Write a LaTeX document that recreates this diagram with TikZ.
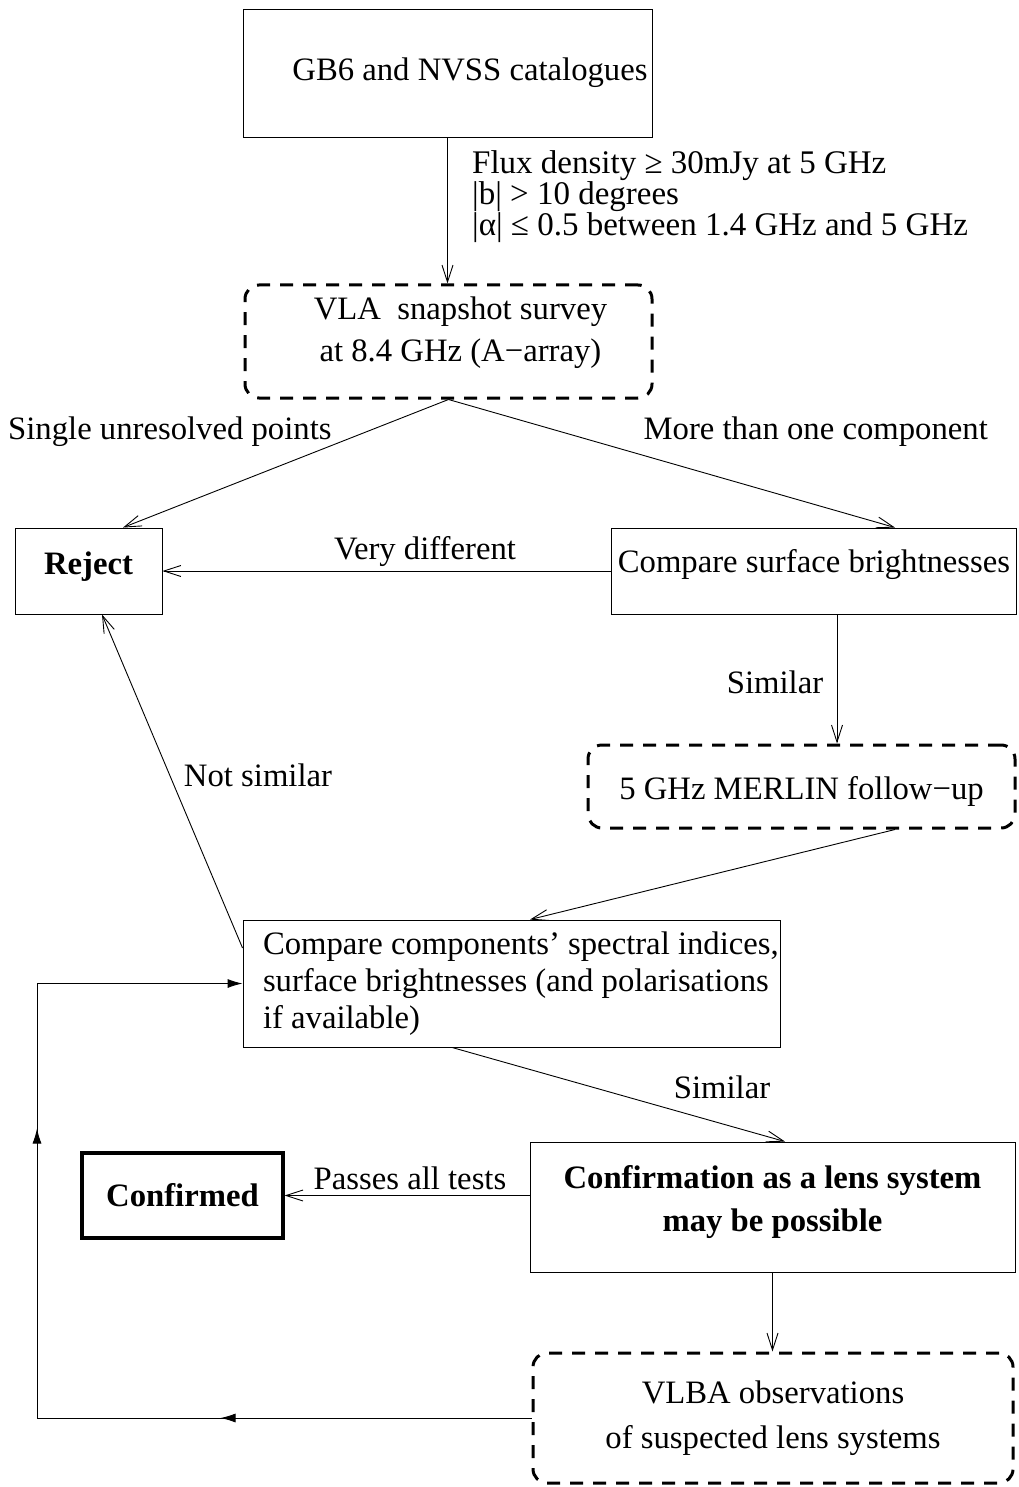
\documentclass[tikz,border=0pt]{standalone}
\usepackage{fontspec}
\setmainfont{Liberation Serif}
\usetikzlibrary{arrows.meta,decorations.markings}

\newcommand{\flowsize}[1]{\fontsize{32.7}{#1}\selectfont}

\tikzset{
  plainbox/.style={draw, line width=0.9pt, inner sep=0pt, align=flush center, font=\flowsize{36}},
  dashbox/.style={draw, line width=3pt, dash pattern=on 13pt off 10pt, rounded corners=14pt,
    inner sep=0pt, align=flush center, font=\flowsize{36}},
  boldbox/.style={draw, line width=3.2pt, inner sep=0pt, font=\flowsize{36}\bfseries},
  lbl/.style={inner sep=0pt, align=flush left, font=\flowsize{36}},
  flow/.style={line width=0.9pt, -{Straight Barb[length=17pt,width=11pt,line width=0.9pt]}},
  loopflow/.style={line width=0.9pt, -{Latex[length=15pt,width=9pt]}}
}

\begin{document}
\begin{tikzpicture}[x=1pt,y=-1pt]
\useasboundingbox (0,0) rectangle (1018,1487);

% boxes
\node[plainbox, minimum width=409pt, minimum height=128pt] (cat) at (447.5,73)
  {\hspace*{45pt}GB6 and NVSS catalogues};
\node[dashbox, minimum width=407pt, minimum height=113pt, text depth=24pt, font=\flowsize{42}] (vla) at (448.5,341.5)
  {\hspace*{24pt}VLA\ \ snapshot survey\\\hspace*{24pt}at 8.4 GHz (A−array)};
\node[plainbox, minimum width=147pt, minimum height=86pt, text depth=15pt, font=\flowsize{36}\bfseries] (reject) at (88.5,571) {Reject};
\node[plainbox, minimum width=405pt, minimum height=86pt, text depth=20pt] (cmpsb) at (814,571) {Compare surface brightnesses};
\node[dashbox, minimum width=427pt, minimum height=83pt, text height=33pt] (merlin) at (801.5,786.5) {5 GHz MERLIN follow−up};
\node[plainbox, text width=497pt, inner xsep=20pt, minimum height=127pt, align=flush left, font=\flowsize{37}] (cmpci) at (511.5,983.5)
  {\mbox{Compare components' spectral indices,}\\\mbox{surface brightnesses (and polarisations}\\\mbox{if available)}};
\node[plainbox, minimum width=485pt, minimum height=130pt, text depth=18pt, font=\flowsize{43}\bfseries] (conf) at (772.5,1207)
  {Confirmation as a lens system\\may be possible};
\node[boldbox, minimum width=201pt, minimum height=85pt] (confirmed) at (182.5,1195.5) {Confirmed};
\node[dashbox, minimum width=480pt, minimum height=130pt, font=\flowsize{45}] (vlba) at (773,1418)
  {VLBA observations\\of suspected lens systems};

% labels
\node[lbl, anchor=west, font=\fontsize{33}{30}\selectfont] (cuts) at (472,197)
  {Flux density ≥ 30mJy at 5 GHz\\|b| > 10 degrees\\|α| ≤ 0.5 between 1.4 GHz and 5 GHz};
\node[lbl, anchor=west] (single) at (8,432) {Single unresolved points};
\node[lbl, anchor=east] (multi) at (988,432) {More than one component};
\node[lbl] (diff) at (425,552) {Very different};
\node[lbl] (simA) at (775,682) {Similar};
\node[lbl] (notsim) at (258,775) {Not similar};
\node[lbl] (simB) at (722,1087) {Similar};
\node[lbl] (passes) at (410,1178) {Passes all tests};

% connectors
\draw[flow] (cat.south) -- (cat.south |- vla.north);
\draw[flow] (vla.south) -- ([xshift=34.5pt]reject.north);
\draw[flow] (vla.south) -- ([xshift=81pt]cmpsb.north);
\draw[flow] (cmpsb.west) -- (reject.east);
\draw[flow] ([xshift=23pt]cmpsb.south) -- ([xshift=23pt]cmpsb.south |- merlin.north);
\draw[flow] ([xshift=93.5pt]merlin.south) -- ([xshift=18.5pt]cmpci.north);
\draw[flow] ([yshift=35.5pt]cmpci.west) -- ([xshift=13.5pt]reject.south);
\draw[flow] ([xshift=-59.5pt]cmpci.south) -- ([xshift=12.5pt]conf.north);
\draw[flow] (confirmed.east -| conf.west) -- (confirmed.east);
\draw[flow] (conf.south) -- (conf.south |- vlba.north);

% loop back
\coordinate (loopx) at (37,0);
\draw[loopflow, postaction=decorate, decoration={markings,
    mark=at position 311pt with {\arrow{Latex[length=15pt,width=9pt]}},
    mark=at position 784pt with {\arrow{Latex[length=15pt,width=9pt]}}}]
  (vlba.west) -- (vlba.west -| loopx) -- (cmpci.west -| loopx) -- (cmpci.west);
\end{tikzpicture}
\end{document}
